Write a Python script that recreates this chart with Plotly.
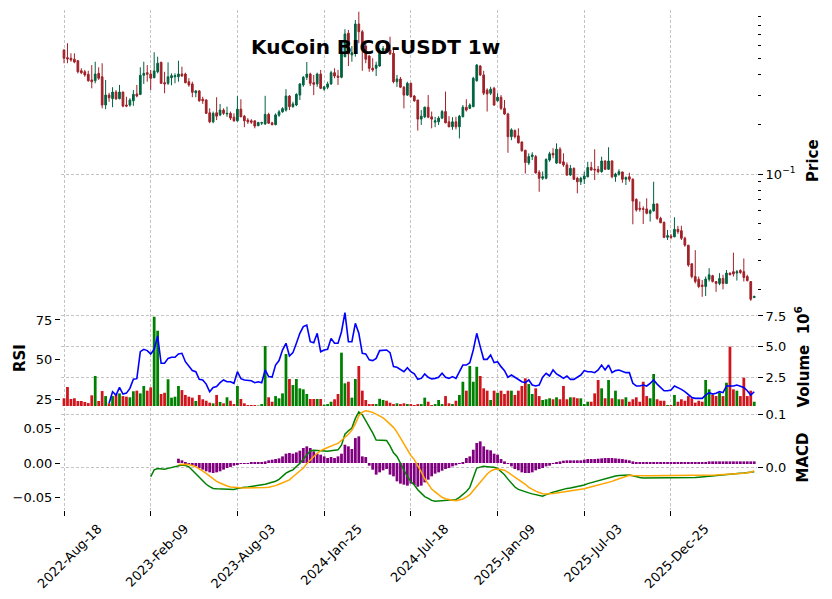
import math
import pandas as pd
import plotly.graph_objects as go

# ---------------- data ----------------
dates = pd.date_range("2022-08-18", periods=200, freq="7D")
tick_labels = ["2022-Aug-18", "2023-Feb-09", "2023-Aug-03", "2024-Jan-25",
               "2024-Jul-18", "2025-Jan-09", "2025-Jul-03", "2025-Dec-25"]

opens = [
    0.566, 0.509, 0.505, 0.498, 0.488, 0.424, 0.418, 0.404, 0.373, 0.369,
    0.409, 0.390, 0.263, 0.302, 0.287, 0.315, 0.287, 0.315, 0.263, 0.263,
    0.279, 0.307, 0.305, 0.398, 0.413, 0.405, 0.385, 0.418, 0.477, 0.359,
    0.356, 0.385, 0.390, 0.390, 0.405, 0.405, 0.364, 0.353, 0.312, 0.320,
    0.285, 0.282, 0.236, 0.208, 0.236, 0.229, 0.245, 0.232, 0.234, 0.222,
    0.211, 0.248, 0.225, 0.213, 0.211, 0.211, 0.197, 0.204, 0.202, 0.231,
    0.205, 0.200, 0.228, 0.239, 0.245, 0.298, 0.257, 0.263, 0.302, 0.348,
    0.387, 0.405, 0.359, 0.353, 0.405, 0.328, 0.337, 0.353, 0.413, 0.394,
    0.387, 0.516, 0.716, 0.529, 0.541, 0.814, 0.731, 0.599, 0.521, 0.439,
    0.439, 0.453, 0.561, 0.578, 0.566, 0.541, 0.364, 0.378, 0.337, 0.302,
    0.356, 0.298, 0.282, 0.216, 0.223, 0.255, 0.223, 0.207, 0.208, 0.219,
    0.240, 0.208, 0.194, 0.208, 0.194, 0.223, 0.255, 0.251, 0.257, 0.369,
    0.453, 0.400, 0.324, 0.310, 0.332, 0.279, 0.293, 0.251, 0.232, 0.169,
    0.184, 0.171, 0.157, 0.140, 0.117, 0.128, 0.128, 0.103, 0.0946, 0.0946,
    0.122, 0.134, 0.117, 0.142, 0.119, 0.114, 0.099, 0.1087, 0.0946, 0.0901,
    0.0937, 0.0966, 0.110, 0.1072, 0.1072, 0.1037, 0.1204, 0.1072, 0.1204, 0.0966,
    0.1000, 0.1033, 0.0933, 0.0966, 0.0933, 0.0705, 0.0623, 0.0619, 0.0617, 0.0580,
    0.0600, 0.0661, 0.0541, 0.0512, 0.0415, 0.0423, 0.0418, 0.0464, 0.0455, 0.0410,
    0.0372, 0.0287, 0.0240, 0.0231, 0.0213, 0.0209, 0.0231, 0.0243, 0.0224, 0.0218,
    0.0234, 0.0218, 0.0252, 0.0257, 0.0252, 0.0261, 0.0257, 0.0240, 0.0224, 0.0179,
]
highs = [
    0.572, 0.623, 0.541, 0.541, 0.493, 0.439, 0.429, 0.424, 0.459, 0.481,
    0.445, 0.471, 0.373, 0.312, 0.337, 0.324, 0.348, 0.317, 0.295, 0.289,
    0.324, 0.348, 0.445, 0.481, 0.459, 0.429, 0.549, 0.516, 0.481, 0.418,
    0.477, 0.409, 0.409, 0.488, 0.449, 0.413, 0.382, 0.364, 0.324, 0.324,
    0.295, 0.285, 0.251, 0.240, 0.293, 0.267, 0.251, 0.257, 0.240, 0.234,
    0.298, 0.285, 0.229, 0.219, 0.216, 0.211, 0.208, 0.208, 0.299, 0.236,
    0.208, 0.234, 0.245, 0.255, 0.328, 0.302, 0.275, 0.310, 0.356, 0.394,
    0.479, 0.413, 0.400, 0.413, 0.429, 0.343, 0.364, 0.424, 0.439, 0.429,
    0.554, 0.757, 0.749, 0.599, 0.861, 0.967, 0.749, 0.623, 0.529, 0.505,
    0.481, 0.580, 0.599, 0.608, 0.682, 0.566, 0.400, 0.389, 0.343, 0.364,
    0.359, 0.302, 0.282, 0.245, 0.257, 0.302, 0.240, 0.223, 0.225, 0.245,
    0.317, 0.225, 0.222, 0.223, 0.229, 0.263, 0.285, 0.269, 0.390, 0.466,
    0.459, 0.424, 0.332, 0.339, 0.339, 0.310, 0.302, 0.282, 0.236, 0.190,
    0.187, 0.190, 0.158, 0.140, 0.134, 0.136, 0.131, 0.106, 0.104, 0.125,
    0.137, 0.144, 0.154, 0.146, 0.134, 0.118, 0.114, 0.110, 0.0966, 0.0966,
    0.1037, 0.119, 0.119, 0.1418, 0.1123, 0.1279, 0.1216, 0.1458, 0.1216, 0.1022,
    0.1072, 0.1037, 0.0966, 0.1022, 0.0946, 0.0715, 0.0684, 0.0640, 0.0715, 0.0614,
    0.0902, 0.0667, 0.0553, 0.0517, 0.0460, 0.0435, 0.0549, 0.0487, 0.0487, 0.0419,
    0.0372, 0.0289, 0.0347, 0.0240, 0.0229, 0.0240, 0.0270, 0.0246, 0.0224, 0.0252,
    0.0246, 0.0263, 0.0254, 0.0335, 0.0263, 0.0266, 0.0309, 0.0246, 0.0224, 0.0184,
]
lows = [
    0.471, 0.471, 0.481, 0.471, 0.409, 0.405, 0.390, 0.364, 0.332, 0.356,
    0.373, 0.251, 0.248, 0.275, 0.255, 0.282, 0.285, 0.255, 0.255, 0.257,
    0.260, 0.293, 0.302, 0.353, 0.364, 0.324, 0.382, 0.409, 0.353, 0.310,
    0.348, 0.346, 0.356, 0.364, 0.390, 0.356, 0.339, 0.293, 0.293, 0.275,
    0.267, 0.232, 0.204, 0.204, 0.213, 0.225, 0.229, 0.223, 0.213, 0.208,
    0.208, 0.222, 0.193, 0.202, 0.202, 0.190, 0.196, 0.199, 0.199, 0.202,
    0.198, 0.198, 0.223, 0.236, 0.240, 0.245, 0.253, 0.259, 0.282, 0.339,
    0.373, 0.343, 0.302, 0.339, 0.328, 0.321, 0.328, 0.348, 0.382, 0.348,
    0.382, 0.512, 0.453, 0.481, 0.516, 0.623, 0.424, 0.471, 0.418, 0.418,
    0.394, 0.449, 0.544, 0.551, 0.529, 0.356, 0.339, 0.333, 0.251, 0.298,
    0.293, 0.275, 0.184, 0.199, 0.219, 0.219, 0.190, 0.193, 0.199, 0.216,
    0.204, 0.193, 0.186, 0.187, 0.165, 0.222, 0.240, 0.248, 0.255, 0.364,
    0.394, 0.302, 0.240, 0.302, 0.260, 0.275, 0.245, 0.229, 0.135, 0.161,
    0.165, 0.154, 0.137, 0.101, 0.114, 0.122, 0.101, 0.0784, 0.0924, 0.0933,
    0.119, 0.125, 0.1155, 0.1155, 0.111, 0.0977, 0.0977, 0.0924, 0.0767, 0.0861,
    0.0874, 0.0959, 0.1052, 0.0924, 0.1014, 0.1022, 0.1062, 0.1062, 0.0946, 0.0901,
    0.0981, 0.0889, 0.0861, 0.0901, 0.0498, 0.0594, 0.0594, 0.0500, 0.0572, 0.0517,
    0.0594, 0.0529, 0.0505, 0.0410, 0.0400, 0.0404, 0.0415, 0.0435, 0.0400, 0.0364,
    0.0275, 0.0234, 0.0218, 0.0204, 0.0181, 0.0183, 0.0224, 0.0221, 0.0194, 0.0213,
    0.0201, 0.0216, 0.0245, 0.0240, 0.0227, 0.0249, 0.0224, 0.0224, 0.0171, 0.0178,
]
closes = [
    0.505, 0.500, 0.493, 0.479, 0.418, 0.413, 0.400, 0.369, 0.364, 0.405,
    0.382, 0.263, 0.302, 0.291, 0.315, 0.287, 0.315, 0.259, 0.259, 0.282,
    0.305, 0.298, 0.398, 0.409, 0.404, 0.382, 0.423, 0.471, 0.356, 0.353,
    0.390, 0.396, 0.396, 0.405, 0.394, 0.359, 0.348, 0.314, 0.320, 0.279,
    0.279, 0.234, 0.208, 0.234, 0.225, 0.245, 0.234, 0.234, 0.219, 0.211,
    0.248, 0.223, 0.211, 0.208, 0.207, 0.196, 0.206, 0.206, 0.231, 0.204,
    0.200, 0.229, 0.239, 0.250, 0.298, 0.257, 0.267, 0.305, 0.353, 0.387,
    0.405, 0.356, 0.351, 0.405, 0.332, 0.339, 0.353, 0.413, 0.394, 0.387,
    0.536, 0.709, 0.536, 0.546, 0.814, 0.731, 0.593, 0.498, 0.439, 0.429,
    0.459, 0.561, 0.578, 0.566, 0.536, 0.364, 0.378, 0.337, 0.302, 0.356,
    0.295, 0.279, 0.216, 0.225, 0.255, 0.222, 0.216, 0.211, 0.219, 0.240,
    0.205, 0.194, 0.208, 0.194, 0.225, 0.255, 0.245, 0.263, 0.382, 0.459,
    0.400, 0.310, 0.307, 0.328, 0.263, 0.293, 0.251, 0.232, 0.169, 0.186,
    0.169, 0.155, 0.139, 0.118, 0.128, 0.131, 0.102, 0.0946, 0.0966, 0.123,
    0.133, 0.131, 0.142, 0.117, 0.114, 0.099, 0.1087, 0.0933, 0.0901, 0.0946,
    0.0977, 0.110, 0.1062, 0.1062, 0.1037, 0.1204, 0.1072, 0.1204, 0.0966, 0.1004,
    0.1037, 0.0933, 0.0959, 0.0933, 0.0688, 0.0608, 0.0614, 0.0614, 0.0580, 0.0602,
    0.0661, 0.0541, 0.0509, 0.0415, 0.0425, 0.0415, 0.0464, 0.0449, 0.0410, 0.0372,
    0.0282, 0.0240, 0.0224, 0.0209, 0.0209, 0.0232, 0.0246, 0.0224, 0.0218, 0.0234,
    0.0218, 0.0252, 0.0246, 0.0249, 0.0257, 0.0254, 0.0237, 0.0227, 0.0175, 0.0182,
]
volume_millions = [
    0.79, 1.71, 0.73, 0.79, 0.57, 0.57, 0.49, 0.40, 1.03, 2.61,
    0.57, 1.38, 0.97, 0.38, 0.97, 1.14, 1.19, 0.97, 0.92, 0.87,
    1.36, 1.41, 1.19, 1.79, 1.41, 1.68, 7.44, 6.30, 1.14, 1.24,
    2.34, 0.84, 0.92, 1.79, 1.46, 1.06, 0.92, 0.84, 0.57, 1.06,
    0.71, 0.59, 0.43, 0.38, 1.06, 0.49, 0.38, 0.87, 0.59, 0.32,
    1.79, 0.73, 0.38, 0.24, 0.24, 0.24, 0.20, 0.32, 5.05, 0.87,
    0.51, 0.97, 0.79, 1.19, 4.40, 2.36, 1.87, 2.36, 1.60, 1.52,
    1.14, 0.73, 0.73, 0.73, 0.73, 0.27, 0.32, 0.51, 0.71, 1.14,
    4.51, 2.01, 2.14, 0.84, 2.36, 3.42, 1.41, 0.65, 0.32, 0.32,
    0.32, 0.75, 0.65, 0.59, 0.43, 0.32, 0.38, 0.32, 0.38, 0.32,
    0.32, 0.24, 0.32, 0.32, 0.84, 0.51, 0.24, 0.32, 0.65, 0.32,
    0.97, 0.38, 0.32, 0.59, 1.06, 2.14, 1.41, 3.42, 2.14, 3.36,
    2.61, 1.60, 1.41, 0.65, 1.41, 1.24, 1.41, 1.14, 1.41, 1.41,
    1.06, 1.41, 1.79, 2.42, 1.95, 1.14, 1.60, 0.97, 0.65, 0.71,
    0.79, 0.71, 0.87, 0.71, 1.79, 0.71, 0.87, 0.87, 0.79, 0.79,
    0.32, 0.51, 0.51, 1.19, 2.28, 1.60, 0.79, 2.28, 0.79, 1.41,
    0.71, 0.71, 0.87, 0.51, 0.71, 0.87, 0.51, 2.14, 0.97, 0.79,
    2.77, 0.71, 0.59, 0.59, 0.24, 0.24, 1.06, 0.51, 0.71, 0.59,
    0.97, 0.79, 0.43, 0.59, 0.51, 2.28, 1.52, 1.06, 0.97, 1.24,
    0.97, 2.06, 5.00, 1.52, 1.41, 0.97, 2.47, 0.97, 1.41, 0.51,
]
rsi = [
    None, None, None, None, None, None, None, None, None, None,
    None, None, None, 22.5, 29.8, 27.7, 32.5, 28.3, 28.9, 31.9,
    37.6, 38.0, 55.0, 56.5, 55.7, 53.6, 56.5, 64.9, 47.7, 47.7,
    50.8, 51.5, 51.5, 53.6, 54.0, 48.7, 45.6, 43.1, 42.4, 37.6,
    37.2, 34.6, 29.8, 32.5, 33.0, 35.5, 37.2, 36.1, 36.1, 35.1,
    42.4, 38.0, 37.2, 37.0, 36.7, 35.5, 36.1, 35.5, 43.5, 39.3,
    39.0, 46.6, 49.4, 56.0, 60.3, 52.3, 54.4, 60.3, 66.6, 70.8,
    71.8, 61.3, 60.7, 66.6, 55.0, 56.1, 56.5, 63.4, 60.3, 60.3,
    67.6, 79.6, 61.3, 61.3, 72.9, 66.6, 54.0, 53.6, 49.9, 49.4,
    50.8, 55.7, 55.7, 56.1, 54.4, 45.6, 45.2, 43.5, 42.4, 44.9,
    42.4, 41.0, 37.6, 38.2, 41.0, 38.9, 37.8, 38.2, 38.9, 41.4,
    38.9, 38.2, 39.3, 38.2, 42.4, 46.6, 46.6, 48.1, 56.1, 66.6,
    58.2, 50.2, 50.2, 52.9, 48.1, 48.7, 45.6, 43.1, 38.9, 40.3,
    38.9, 37.6, 36.1, 35.5, 37.2, 34.0, 33.4, 34.0, 38.9, 41.4,
    39.7, 43.5, 41.0, 39.7, 38.2, 39.7, 37.6, 37.6, 38.9, 40.3,
    43.1, 42.4, 42.4, 41.8, 43.5, 46.6, 43.5, 46.6, 41.8, 43.1,
    43.5, 42.4, 41.8, 41.8, 35.1, 33.4, 33.4, 34.0, 33.4, 35.1,
    37.2, 34.6, 32.5, 30.4, 30.4, 30.9, 33.4, 32.5, 31.3, 29.8,
    27.7, 26.2, 25.6, 25.6, 25.6, 27.7, 29.2, 28.3, 28.8, 29.8,
    29.2, 33.4, 33.4, 33.4, 34.0, 33.4, 32.5, 30.4, 27.7, 29.8,
]
macd = [
    None, None, None, None, None, None, None, None, None, None,
    None, None, None, None, None, None, None, None, None, None,
    None, None, None, None, None, -0.0200, -0.0100, -0.0080, -0.0090, -0.0090,
    -0.0078, -0.0065, -0.0052, -0.0040, -0.0028, -0.0035, -0.0055, -0.0105, -0.0160, -0.0210,
    -0.0265, -0.0310, -0.0345, -0.0372, -0.0377, -0.0379, -0.0382, -0.0385, -0.0387, -0.0385,
    -0.0372, -0.0360, -0.0355, -0.0350, -0.0343, -0.0336, -0.0327, -0.0318, -0.0308, -0.0296,
    -0.0286, -0.0265, -0.0238, -0.0192, -0.0148, -0.0120, -0.0100, -0.0050, -0.0005, 0.0058,
    0.0121, 0.0175, 0.0185, 0.0182, 0.0175, 0.0168, 0.0170, 0.0178, 0.0185, 0.0192,
    0.0260, 0.0420, 0.0470, 0.0510, 0.0650, 0.0745, 0.0705, 0.0620, 0.0545, 0.0440,
    0.0335, 0.0330, 0.0328, 0.0327, 0.0250, 0.0150, 0.0097, 0.0000, -0.0110, -0.0200,
    -0.0270, -0.0320, -0.0390, -0.0440, -0.0490, -0.0515, -0.0545, -0.0557, -0.0552, -0.0545,
    -0.0540, -0.0534, -0.0534, -0.0534, -0.0500, -0.0460, -0.0415, -0.0355, -0.0210, -0.0073,
    -0.0060, -0.0049, -0.0054, -0.0058, -0.0062, -0.0080, -0.0120, -0.0170, -0.0235, -0.0300,
    -0.0350, -0.0385, -0.0405, -0.0420, -0.0435, -0.0450, -0.0462, -0.0475, -0.0485, -0.0460,
    -0.0437, -0.0425, -0.0413, -0.0395, -0.0379, -0.0370, -0.0364, -0.0355, -0.0345, -0.0335,
    -0.0320, -0.0300, -0.0285, -0.0272, -0.0260, -0.0240, -0.0225, -0.0210, -0.0198, -0.0188,
    -0.0183, -0.0180, -0.0178, -0.0175, -0.0185, -0.0203, -0.0212, -0.0219, -0.0219, -0.0219,
    -0.0219, -0.0219, -0.0219, -0.0219, -0.0219, -0.0219, -0.0219, -0.0219, -0.0219, -0.0217,
    -0.0215, -0.0212, -0.0210, -0.0206, -0.0202, -0.0198, -0.0194, -0.0191, -0.0187, -0.0184,
    -0.0180, -0.0174, -0.0168, -0.0161, -0.0155, -0.0150, -0.0145, -0.0140, -0.0133, -0.0126,
]
signal = [
    None, None, None, None, None, None, None, None, None, None,
    None, None, None, None, None, None, None, None, None, None,
    None, None, None, None, None, None, None, None, None, None,
    None, None, None, -0.0022, -0.0017, -0.0018, -0.0023, -0.0038, -0.0055, -0.0085,
    -0.0115, -0.0150, -0.0190, -0.0230, -0.0267, -0.0292, -0.0316, -0.0335, -0.0350, -0.0357,
    -0.0360, -0.0362, -0.0364, -0.0364, -0.0364, -0.0364, -0.0364, -0.0362, -0.0357, -0.0352,
    -0.0343, -0.0330, -0.0310, -0.0292, -0.0270, -0.0245, -0.0200, -0.0155, -0.0115, -0.0073,
    -0.0012, 0.0049, 0.0095, 0.0140, 0.0180, 0.0205, 0.0230, 0.0250, 0.0268, 0.0285,
    0.0325, 0.0375, 0.0420, 0.0480, 0.0570, 0.0690, 0.0740, 0.0763, 0.0752, 0.0738,
    0.0712, 0.0685, 0.0658, 0.0615, 0.0570, 0.0520, 0.0450, 0.0360, 0.0270, 0.0180,
    0.0110, 0.0050, -0.0030, -0.0130, -0.0230, -0.0300, -0.0380, -0.0420, -0.0460, -0.0500,
    -0.0520, -0.0534, -0.0542, -0.0549, -0.0540, -0.0525, -0.0498, -0.0462, -0.0400, -0.0340,
    -0.0280, -0.0219, -0.0160, -0.0118, -0.0095, -0.0087, -0.0093, -0.0105, -0.0135, -0.0170,
    -0.0200, -0.0240, -0.0275, -0.0310, -0.0355, -0.0385, -0.0410, -0.0430, -0.0447, -0.0450,
    -0.0452, -0.0445, -0.0437, -0.0430, -0.0423, -0.0418, -0.0413, -0.0405, -0.0395, -0.0385,
    -0.0375, -0.0362, -0.0350, -0.0338, -0.0322, -0.0308, -0.0295, -0.0283, -0.0268, -0.0248,
    -0.0230, -0.0210, -0.0195, -0.0180, -0.0182, -0.0185, -0.0185, -0.0185, -0.0185, -0.0185,
    -0.0185, -0.0185, -0.0185, -0.0185, -0.0185, -0.0185, -0.0185, -0.0185, -0.0185, -0.0185,
    -0.0185, -0.0185, -0.0185, -0.0185, -0.0185, -0.0185, -0.0180, -0.0178, -0.0175, -0.0172,
    -0.0170, -0.0168, -0.0165, -0.0162, -0.0160, -0.0155, -0.0150, -0.0143, -0.0136, -0.0112,
]
histogram = [
    None, None, None, None, None, None, None, None, None, None,
    None, None, None, None, None, None, None, None, None, None,
    None, None, None, None, None, None, None, None, None, None,
    None, None, None, 0.0063, 0.0039, 0.0010, -0.0010, -0.0024, -0.0049, -0.0073,
    -0.0097, -0.0121, -0.0136, -0.0146, -0.0136, -0.0121, -0.0097, -0.0073, -0.0058, -0.0039,
    -0.0024, -0.0010, -0.0005, -0.0002, 0.0002, 0.0005, 0.0010, 0.0015, 0.0024, 0.0039,
    0.0049, 0.0058, 0.0068, 0.0097, 0.0136, 0.0146, 0.0136, 0.0155, 0.0180, 0.0219,
    0.0243, 0.0219, 0.0170, 0.0136, 0.0121, 0.0097, 0.0073, 0.0087, 0.0073, 0.0097,
    0.0136, 0.0267, 0.0243, 0.0204, 0.0364, 0.0389, 0.0097, 0.0087, -0.0039, -0.0097,
    -0.0170, -0.0136, -0.0107, -0.0087, -0.0170, -0.0194, -0.0267, -0.0301, -0.0316, -0.0330,
    -0.0300, -0.0320, -0.0345, -0.0330, -0.0282, -0.0243, -0.0194, -0.0155, -0.0136, -0.0112,
    -0.0087, -0.0073, -0.0049, -0.0034, -0.0005, 0.0010, 0.0073, 0.0097, 0.0194, 0.0292,
    0.0316, 0.0243, 0.0194, 0.0185, 0.0136, 0.0121, 0.0058, 0.0024, -0.0010, -0.0049,
    -0.0087, -0.0107, -0.0136, -0.0146, -0.0146, -0.0136, -0.0107, -0.0087, -0.0073, -0.0049,
    -0.0039, -0.0010, 0.0002, 0.0024, 0.0034, 0.0039, 0.0039, 0.0039, 0.0039, 0.0039,
    0.0049, 0.0058, 0.0058, 0.0058, 0.0063, 0.0068, 0.0073, 0.0073, 0.0073, 0.0068,
    0.0063, 0.0058, 0.0049, 0.0039, 0.0024, 0.0010, 0.0010, 0.0010, 0.0010, 0.0010,
    0.0002, 0.0002, 0.0002, 0.0002, 0.0002, 0.0002, 0.0002, 0.0015, 0.0015, 0.0015,
    0.0002, 0.0002, 0.0002, 0.0002, 0.0002, 0.0002, 0.0024, 0.0024, 0.0024, 0.0024,
    0.0024, 0.0024, 0.0024, 0.0024, 0.0024, 0.0024, 0.0024, 0.0024, 0.0024, 0.0024,
]

for name, arr in [("opens", opens), ("highs", highs), ("lows", lows), ("closes", closes),
                  ("volume", volume_millions), ("rsi", rsi), ("macd", macd),
                  ("signal", signal), ("hist", histogram)]:
    assert len(arr) == len(dates), (name, len(arr))

# ---------------- styling ----------------
FONT = "DejaVu Sans"
UP, DOWN = "#006340", "#A02128"
VUP, VDOWN = "#008000", "#D0161C"
GRID = "#c4c4c4"
GDASH = "3px,2px"

W, H = 832, 599
L_PX, R_PX = 61, 757
XDOM = [L_PX / W, R_PX / W]
MAIN_DOM = [1 - 307 / H, 1 - 10 / H]
VOL_DOM = [1 - 406 / H, 1 - 309 / H]
MACD_DOM = [1 - 510 / H, 1 - 408 / H]

idx = list(range(len(dates)))
tick_pos = [dates.get_loc(pd.to_datetime(t, format="%Y-%b-%d")) for t in tick_labels]
XR = [-0.865, len(dates) - 0.2]

vol_colors = [VUP if c >= o else VDOWN for o, c in zip(opens, closes)]

fig = go.Figure()
fig.add_trace(go.Candlestick(
    x=idx, open=opens, high=highs, low=lows, close=closes,
    increasing=dict(line=dict(color=UP, width=1), fillcolor=UP),
    decreasing=dict(line=dict(color=DOWN, width=1), fillcolor=DOWN),
    whiskerwidth=0, xaxis="x", yaxis="y", showlegend=False, hoverinfo="skip"))
fig.add_trace(go.Bar(x=idx, y=volume_millions, marker=dict(color=vol_colors, line=dict(width=0)),
                     xaxis="x2", yaxis="y2", showlegend=False, hoverinfo="skip"))
fig.add_trace(go.Scatter(x=idx, y=rsi, mode="lines", line=dict(color="blue", width=1.6),
                         xaxis="x2", yaxis="y3", showlegend=False, hoverinfo="skip"))
fig.add_trace(go.Bar(x=idx, y=histogram, marker=dict(color="purple", line=dict(width=0)),
                     xaxis="x3", yaxis="y4", showlegend=False, hoverinfo="skip"))
fig.add_trace(go.Scatter(x=idx, y=macd, mode="lines", line=dict(color="green", width=1.5),
                         xaxis="x3", yaxis="y4", showlegend=False, hoverinfo="skip"))
fig.add_trace(go.Scatter(x=idx, y=signal, mode="lines", line=dict(color="orange", width=1.5),
                         xaxis="x3", yaxis="y4", showlegend=False, hoverinfo="skip"))
# anchor trace for the right-hand MACD scale
fig.add_trace(go.Scatter(x=[idx[0]], y=[0], mode="markers", marker=dict(opacity=0),
                         xaxis="x3", yaxis="y5", showlegend=False, hoverinfo="skip"))

tickfont = dict(family=FONT, size=13, color="black")
xcommon = dict(domain=XDOM, range=XR, tickvals=tick_pos, showgrid=True, gridcolor=GRID,
               griddash=GDASH, gridwidth=0.8, zeroline=False, showline=False, automargin=False)
ycommon = dict(showline=False, zeroline=False, ticks="outside", ticklen=5, tickwidth=1,
               tickcolor="black", tickfont=tickfont, automargin=False)

ymin, ymax = 0.0157, 0.990
minor_vals = [0.02, 0.03, 0.04, 0.05, 0.06, 0.07, 0.08, 0.09,
              0.2, 0.3, 0.4, 0.5, 0.6, 0.7, 0.8, 0.9]

fig.update_layout(
    width=W, height=H, margin=dict(l=0, r=0, t=0, b=0, autoexpand=False),
    paper_bgcolor="white", plot_bgcolor="white", bargap=0.2,
    font=dict(family=FONT, color="black"),
    xaxis=dict(**xcommon, anchor="y", showticklabels=False, ticks="",
               rangeslider=dict(visible=False)),
    xaxis2=dict(**xcommon, anchor="y2", matches="x", showticklabels=False, ticks=""),
    xaxis3=dict(**xcommon, anchor="y4", matches="x", ticktext=tick_labels, tickangle=-45,
                ticklabelshift=34, ticklabelstandoff=0,
                ticks="outside", ticklen=5, tickcolor="black", tickfont=tickfont),
    yaxis=dict(**ycommon, domain=MAIN_DOM, anchor="x", type="log", side="right",
               range=[math.log10(ymin), math.log10(ymax)],
               tickvals=[0.1], ticktext=["10<sup>−1</sup>"],
               showgrid=True, gridcolor=GRID, griddash=GDASH, gridwidth=0.8,
               minor=dict(tickvals=minor_vals, ticks="outside", ticklen=3,
                          tickcolor="black", showgrid=False)),
    yaxis2=dict(**ycommon, domain=VOL_DOM, anchor="x2", side="right", range=[0.16, 8.07],
                tickvals=[2.5, 5.0, 7.5], ticktext=["2.5", "5.0", "7.5"],
                showgrid=True, gridcolor=GRID, griddash=GDASH, gridwidth=0.8),
    yaxis3=dict(**ycommon, overlaying="y2", anchor="x2", side="left", range=[20.8, 81.9],
                tickvals=[25, 50, 75], showgrid=False),
    yaxis4=dict(**ycommon, domain=MACD_DOM, anchor="x3", side="left", range=[-0.0685, 0.0802],
                tickvals=[-0.05, 0.0, 0.05], ticktext=["−0.05", "0.00", "0.05"], showgrid=False),
    yaxis5=dict(**ycommon, overlaying="y4", anchor="x3", side="right", range=[-0.0788, 0.1112],
                tickvals=[0.0, 0.1], ticktext=["0.0", "0.1"],
                showgrid=True, gridcolor=GRID, griddash=GDASH, gridwidth=0.8),
)

def px(xp, yp):
    return xp / W, 1 - yp / H

annots = [
    ("<b>KuCoin BICO-USDT 1w</b>", 375.5, 47, 20, 0),
    ("<b>Price</b>", 813, 161, 15, -90),
    ("<b>Volume  10<sup>6</sup></b>", 802.5, 357, 15, -90),
    ("<b>MACD</b>", 802.5, 458, 15, -90),
    ("<b>RSI</b>", 20, 358, 15, -90),
]
for text, xp, yp, size, ang in annots:
    ax, ay = px(xp, yp)
    fig.add_annotation(text=text, x=ax, y=ay, xref="paper", yref="paper", showarrow=False,
                       textangle=ang, xanchor="center", yanchor="middle",
                       font=dict(family=FONT, size=size, color="black"))

fig.write_html("out.html")
